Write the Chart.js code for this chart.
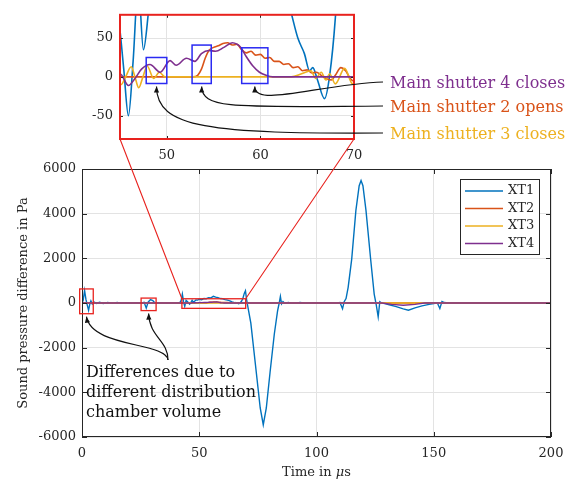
<!DOCTYPE html>
<html>
<head>
<meta charset="utf-8">
<script src="https://cdn.jsdelivr.net/npm/chart.js"></script>
<style>
  body { margin: 0; background: #fff; }
  #wrap { position: relative; width: 573px; height: 485px; }
  #wrap canvas { position: absolute; left: 0; top: 0; }
</style>
</head>
<body>
<div id="wrap">
  <canvas id="main" width="573" height="485"></canvas>
  <canvas id="zoom" width="573" height="485"></canvas>
</div>
<script>
// time in µs, sound pressure difference in Pa
const xt1Time = [0, 0.5, 1.1, 1.7, 2.3, 2.8, 3.3, 3.8, 4.4, 5.2,
  6.2, 7.5, 9, 11, 13, 15, 17, 19, 21, 23,
  25, 26.5, 27.4, 28.2, 29.2, 30.2, 31.2, 33, 36, 39,
  41.6, 42.3, 42.8, 43.3, 43.8, 44.4, 45.0, 45.4, 45.9, 46.4,
  46.95, 47.5, 48.1, 48.6, 49.3, 50.0, 51.0, 52.0, 53.0, 54.0,
  55, 56, 57, 58, 59, 60, 61, 62, 62.7, 63.3,
  64.0, 64.7, 65.25, 65.6, 66.1, 66.85, 67.4, 68.0, 68.6, 69.2,
  69.7, 70.2, 70.6, 72, 74, 76, 77.3, 78.6, 80.2, 82,
  83.4, 84.1, 84.6, 85.1, 85.7, 86.5, 88, 90, 93, 96,
  99, 102, 105, 108, 110, 111.1, 111.8, 112.6, 113.5, 115,
  116.8, 118.2, 119, 119.8, 121.1, 123.1, 124.6, 125.5, 126.3, 127,
  127.8, 129.2, 131, 134, 137, 139.2, 142, 145, 148, 150,
  151.5, 152.6, 153.5, 154.5, 156, 200];
const xt1Vals = [0, 120, 560, 150, -120, -330, -60, 90, -50, 40,
  -20, 30, -20, 25, -15, 20, -15, 15, -10, 15,
  -10, 30, -230, 40, 150, 110, -10, 15, -10, 10,
  0, 120, 400, 60, -150, 120, 60, 10, -50, 20,
  120, 35, 90, 140, 130, 170, 150, 200, 190, 240,
  230, 300, 260, 240, 200, 190, 150, 130, 110, 82,
  50, 30, 8, 12, -4, -28, 2, 75, 200, 430,
  550, 150, -100, -900, -2800, -4700, -5450, -4700, -3100, -1400,
  -350, 0, 290, -40, 60, -10, 25, -15, 20, -15,
  15, -10, 15, -5, 20, -260, 60, 200, 700, 1950,
  4150, 5250, 5480, 5250, 4150, 1950, 400, -100, -620, 60,
  0, -30, -80, -160, -260, -320, -220, -130, -60, -30,
  10, -250, 70, 20, 0, 0];

const xt2Time = [0, 52.8, 53.3, 53.7, 54.1, 54.5, 55.0, 55.5, 56.0, 56.5,
  57.0, 57.5, 58.0, 58.5, 59.0, 59.5, 60.0, 60.5, 61.0, 61.5,
  62.0, 62.5, 63.0, 63.5, 64.0, 64.5, 65.0, 65.5, 66.0, 66.5,
  67.0, 67.6, 68.0, 68.6, 69.1, 69.6, 70.1, 70.8, 200];
const xt2Vals = [0, 0, 2, 10, 24, 34, 38, 40, 43, 44,
  41, 42, 35, 31, 33, 28, 29, 24, 25, 20,
  20, 16, 17, 12, 13, 8, 9, 5, 6, 2,
  -2, -4, 2, 12, 8, -2, -6, 0, 0];

const xt3Time = [0, 43.6, 44.2, 44.6, 45.1, 45.6, 46.2, 46.6, 47.0, 47.45,
  47.9, 48.6, 49.2, 49.8, 63.3, 64.4, 65.4, 65.9, 66.5, 67.0,
  67.4, 68.0, 69.0, 69.85, 70.4, 71, 200];
const xt3Vals = [0, 0, 6, -4, -10, 0, 13, 0, -14, 0,
  14, -2, 6, 0, 0, 4, 8, -2, 6, -4,
  4, -9, 11, -9, 3, 0, 0];

const xt4Time = [0, 44.3, 45.0, 45.9, 46.6, 47.3, 48.2, 49.3, 50.35, 51.0,
  52.1, 53.0, 53.7, 54.5, 55.2, 56.1, 57.0, 57.5, 57.9, 58.5,
  59.2, 59.9, 60.6, 61.3, 128, 132, 137, 142, 146, 200];
const xt4Vals = [0, -3, 4, -11, -2, 10, 16, 6, 21, 15,
  24, 20, 30, 34, 33, 38, 44, 42, 38, 26,
  14, 6, 2, 0, 0, -60, -100, -60, 0, 0];

const seriesNames = ['XT1', 'XT2', 'XT3', 'XT4'];
const seriesColors = ['#0072BD', '#D95319', '#EDB120', '#7E2F8E'];

const mainXTicks = [0, 50, 100, 150, 200];
const mainYTicks = [-6000, -4000, -2000, 0, 2000, 4000, 6000];
const zoomXTicks = [50, 60, 70];
const zoomYTicks = [-50, 0, 50];

// marked regions in the overview (µs / Pa)
const mainBoxes = [
  { x0: -1, x1: 4.8, y0: -480, y1: 630 },
  { x0: 25.2, x1: 31.6, y0: -340, y1: 220 },
  { x0: 42.6, x1: 69.8, y0: -240, y1: 190 }
];
// marked events in the zoom
const zoomBoxes = [
  { x0: 47.8, x1: 50.0, y0: -8.5, y1: 25 },
  { x0: 52.7, x1: 54.75, y0: -8.5, y1: 41 },
  { x0: 58.0, x1: 60.8, y0: -8.5, y1: 37.5 }
];
const eventLabels = ['Main shutter 4 closes', 'Main shutter 2 opens', 'Main shutter 3 closes'];
const eventColors = ['#7E2F8E', '#D95319', '#EDB120'];
const noteLines = ['Differences due to', 'different distribution', 'chamber volume'];

const FONT = '"DejaVu Serif", serif';
const axisColor = '#262626';
const gridColor = '#e3e3e3';
const red = '#e8221e';

Chart.defaults.font.family = FONT;
Chart.defaults.font.size = 13;
Chart.defaults.color = axisColor;

const pts = (t, v) => t.map((x, i) => ({ x, y: v[i] }));
const allTimes = [xt1Time, xt2Time, xt3Time, xt4Time];
const allVals = [xt1Vals, xt2Vals, xt3Vals, xt4Vals];

function makeDatasets(width, smooth) {
  return seriesNames.map((name, i) => ({
    label: name,
    data: pts(allTimes[i], allVals[i]),
    borderColor: seriesColors[i],
    borderWidth: width,
    pointRadius: 0,
    tension: 0,
    cubicInterpolationMode: smooth ? 'monotone' : 'default',
    order: 4 - i
  }));
}

function innerTicks(chart, len, color) {
  const { ctx, chartArea: a, scales: { x, y } } = chart;
  ctx.save();
  ctx.strokeStyle = color;
  ctx.lineWidth = 1;
  ctx.beginPath();
  x.ticks.forEach(t => {
    const px = Math.round(x.getPixelForValue(t.value)) + 0.5;
    ctx.moveTo(px, a.bottom); ctx.lineTo(px, a.bottom - len);
    ctx.moveTo(px, a.top); ctx.lineTo(px, a.top + len);
  });
  y.ticks.forEach(t => {
    const py = Math.round(y.getPixelForValue(t.value)) + 0.5;
    ctx.moveTo(a.left, py); ctx.lineTo(a.left + len, py);
    ctx.moveTo(a.right, py); ctx.lineTo(a.right - len, py);
  });
  ctx.stroke();
  ctx.restore();
}

function boxPx(chart, b) {
  const { x, y } = chart.scales;
  const l = x.getPixelForValue(b.x0), r = x.getPixelForValue(b.x1);
  const t = y.getPixelForValue(b.y1), btm = y.getPixelForValue(b.y0);
  return { l, r, t, b: btm, cx: (l + r) / 2 };
}

// curved arrow from (x0,y0) to tip (x1,y1), head at the tip
function arrow(ctx, x0, y0, c1x, c1y, c2x, c2y, x1, y1) {
  ctx.beginPath();
  ctx.moveTo(x0, y0);
  ctx.bezierCurveTo(c1x, c1y, c2x, c2y, x1, y1);
  ctx.stroke();
  const ang = Math.atan2(y1 - c2y, x1 - c2x);
  const len = 6, hw = 2.6;
  ctx.beginPath();
  ctx.moveTo(x1, y1);
  ctx.lineTo(x1 - len * Math.cos(ang) + hw * Math.sin(ang), y1 - len * Math.sin(ang) - hw * Math.cos(ang));
  ctx.lineTo(x1 - len * Math.cos(ang) - hw * Math.sin(ang), y1 - len * Math.sin(ang) + hw * Math.cos(ang));
  ctx.closePath();
  ctx.fill();
}

const mainDecor = {
  id: 'mainDecor',
  afterDraw(chart) {
    const { ctx, chartArea: a } = chart;
    ctx.save();
    ctx.strokeStyle = axisColor;
    ctx.lineWidth = 1;
    ctx.strokeRect(a.left + 0.5, a.top + 0.5, a.right - a.left - 1, a.bottom - a.top - 1);
    ctx.restore();
    innerTicks(chart, 5, axisColor);

    // x axis title, µ set in italics
    ctx.save();
    ctx.fillStyle = axisColor;
    ctx.textBaseline = 'middle';
    const up = '13px ' + FONT, it = 'italic 13px ' + FONT;
    const parts = [['Time in ', up], ['μ', it], ['s', up]];
    let w = 0;
    parts.forEach(([s, f]) => { ctx.font = f; w += ctx.measureText(s).width; });
    let px = (a.left + a.right) / 2 - w / 2;
    parts.forEach(([s, f]) => { ctx.font = f; ctx.fillText(s, px, 473); px += ctx.measureText(s).width; });
    ctx.restore();

    // marked regions
    ctx.save();
    ctx.strokeStyle = red;
    ctx.lineWidth = 1.3;
    mainBoxes.forEach(b => {
      const p = boxPx(chart, b);
      ctx.strokeRect(p.l, p.t, p.r - p.l, p.b - p.t);
    });
    ctx.restore();

    // note with two arrows
    const tail = { x: a.left + 86, y: 360 };
    const b1 = boxPx(chart, mainBoxes[0]);
    const b2 = boxPx(chart, mainBoxes[1]);
    ctx.save();
    ctx.strokeStyle = '#111';
    ctx.fillStyle = '#111';
    ctx.lineWidth = 1.2;
    arrow(ctx, tail.x, tail.y, tail.x - 2, tail.y - 18, b1.cx + 5, b1.b + 34, b1.cx, b1.b + 3);
    arrow(ctx, tail.x, tail.y, tail.x, tail.y - 20, b2.cx + 1, b2.b + 27, b2.cx, b2.b + 3);
    ctx.font = '16px ' + FONT;
    ctx.textBaseline = 'middle';
    ctx.textAlign = 'left';
    noteLines.forEach((s, i) => ctx.fillText(s, a.left + 4, 373 + i * 20));
    ctx.restore();

    // legend
    const lw = 79, lh = 75;
    const lx = a.right - 12 - lw, ly = a.top + 10;
    ctx.save();
    ctx.fillStyle = '#fff';
    ctx.fillRect(lx, ly, lw, lh);
    ctx.strokeStyle = axisColor;
    ctx.lineWidth = 1;
    ctx.strokeRect(lx + 0.5, ly + 0.5, lw, lh);
    ctx.font = '13px ' + FONT;
    ctx.textBaseline = 'middle';
    seriesNames.forEach((name, i) => {
      const yy = ly + 12 + i * 17.5;
      ctx.strokeStyle = seriesColors[i];
      ctx.lineWidth = 1.6;
      ctx.beginPath();
      ctx.moveTo(lx + 5, yy);
      ctx.lineTo(lx + 43, yy);
      ctx.stroke();
      ctx.fillStyle = axisColor;
      ctx.fillText(name, lx + 48, yy);
    });
    ctx.restore();
  }
};

const mainChart = new Chart(document.getElementById('main'), {
  type: 'line',
  data: { datasets: makeDatasets(1.4, false) },
  options: {
    responsive: false,
    animation: false,
    devicePixelRatio: 1,
    layout: { padding: { top: 169, right: 22, left: 0, bottom: 0 } },
    plugins: { legend: { display: false }, tooltip: { enabled: false } },
    scales: {
      x: {
        type: 'linear', min: 0, max: 200,
        afterBuildTicks: s => { s.ticks = mainXTicks.map(v => ({ value: v })); },
        afterFit: s => { s.height = 48; },
        grid: { color: gridColor, drawTicks: false },
        border: { display: false },
        ticks: { padding: 9, maxRotation: 0, autoSkip: false, callback: v => String(v) }
      },
      y: {
        type: 'linear', min: -6000, max: 6000,
        afterBuildTicks: s => { s.ticks = mainYTicks.map(v => ({ value: v })); },
        afterFit: s => { s.width = 82; },
        grid: { color: gridColor, drawTicks: false },
        border: { display: false },
        ticks: { padding: 6, autoSkip: false, callback: v => String(v) },
        title: { display: true, text: 'Sound pressure difference in Pa', padding: { top: 16, bottom: 0 } }
      }
    }
  },
  plugins: [mainDecor]
});

const zoomDecor = {
  id: 'zoomDecor',
  afterDraw(chart) {
    const { ctx, chartArea: a } = chart;
    innerTicks(chart, 3, axisColor);

    // zoom frame and lines to the overview region
    const src = boxPx(mainChart, mainBoxes[2]);
    ctx.save();
    ctx.strokeStyle = red;
    ctx.lineWidth = 1.1;
    ctx.beginPath();
    ctx.moveTo(src.l, src.t); ctx.lineTo(a.left, a.bottom);
    ctx.moveTo(src.r, src.t); ctx.lineTo(a.right, a.bottom);
    ctx.stroke();
    ctx.lineWidth = 2;
    ctx.strokeRect(a.left, a.top, a.right - a.left, a.bottom - a.top);
    ctx.restore();

    // event boxes
    ctx.save();
    ctx.strokeStyle = '#2a2af2';
    ctx.lineWidth = 1.5;
    const bp = zoomBoxes.map(b => boxPx(chart, b));
    bp.forEach(p => ctx.strokeRect(p.l, p.t, p.r - p.l, p.b - p.t));
    ctx.restore();

    // arrows and labels
    const tx = a.right + 29;
    const rows = [82, 106, 133];
    ctx.save();
    ctx.strokeStyle = '#111';
    ctx.fillStyle = '#111';
    ctx.lineWidth = 1.2;
    const c = bp[2], b = bp[1], s = bp[0];
    arrow(ctx, tx, rows[0], 320, rows[0] + 2, c.cx, rows[0] + 26, c.cx, c.b + 3);
    arrow(ctx, tx, rows[1], 240, rows[1] + 1, b.cx, rows[1] + 4, b.cx, b.b + 3);
    arrow(ctx, tx, rows[2], 210, rows[2] + 1, s.cx, rows[2] - 5, s.cx, s.b + 3);
    ctx.font = '16px ' + FONT;
    ctx.textBaseline = 'middle';
    ctx.textAlign = 'left';
    eventLabels.forEach((t, i) => {
      ctx.fillStyle = eventColors[i];
      ctx.fillText(t, tx + 7, rows[i] + 1.5);
    });
    ctx.restore();
  }
};

new Chart(document.getElementById('zoom'), {
  type: 'line',
  data: { datasets: makeDatasets(1.6, true) },
  options: {
    responsive: false,
    animation: false,
    devicePixelRatio: 1,
    layout: { padding: { top: 8, right: 219, left: 0, bottom: 0 } },
    plugins: { legend: { display: false }, tooltip: { enabled: false } },
    scales: {
      x: {
        type: 'linear', min: 45, max: 70,
        afterBuildTicks: s => { s.ticks = zoomXTicks.map(v => ({ value: v })); },
        afterFit: s => { s.height = 346; },
        grid: { color: gridColor, drawTicks: false },
        border: { display: false },
        ticks: { padding: 9, maxRotation: 0, autoSkip: false, callback: v => String(v) }
      },
      y: {
        type: 'linear', min: -80, max: 80,
        afterBuildTicks: s => { s.ticks = zoomYTicks.map(v => ({ value: v })); },
        afterFit: s => { s.width = 120; },
        grid: { color: gridColor, drawTicks: false },
        border: { display: false },
        ticks: { padding: 7, autoSkip: false, callback: v => String(v) }
      }
    }
  },
  plugins: [zoomDecor]
});
</script>
</body>
</html>
